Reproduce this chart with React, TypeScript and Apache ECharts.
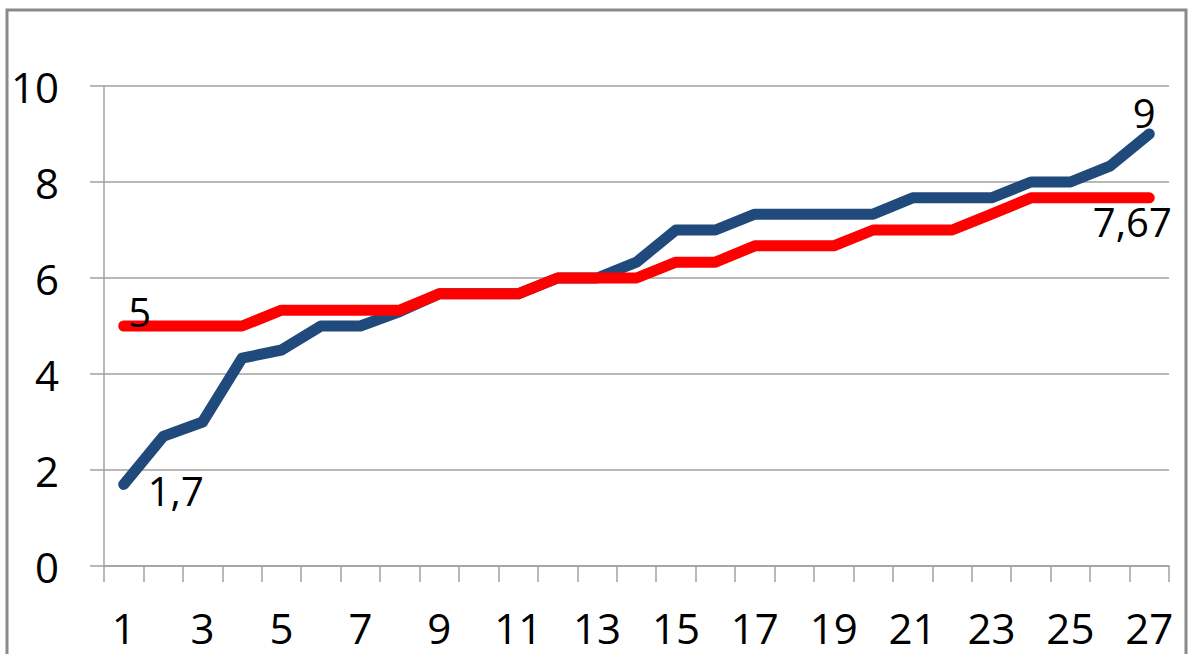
import React, { useEffect, useRef } from "react";
import * as echarts from "echarts";

const categories = Array.from({ length: 27 }, (_, i) => String(i + 1));
const blueValues = [1.7, 2.7, 3, 4.33, 4.5, 5, 5, 5.3, 5.67, 5.67, 5.67, 6, 6, 6.33, 7, 7, 7.33, 7.33, 7.33, 7.33, 7.67, 7.67, 7.67, 8, 8, 8.33, 9];
const redValues = [5, 5, 5, 5, 5.33, 5.33, 5.33, 5.33, 5.67, 5.67, 5.67, 6, 6, 6, 6.33, 6.33, 6.67, 6.67, 6.67, 7, 7, 7, 7.33, 7.67, 7.67, 7.67, 7.67];
const yTicks = [0, 2, 4, 6, 8, 10];

const FONT = '"Open Sans", "Noto Sans", sans-serif';
const fmt = (v: number) => String(v).replace(".", ",");

export default function App() {
  const ref = useRef<HTMLDivElement>(null);
  useEffect(() => {
    const chart = echarts.init(ref.current!, null, { renderer: "svg" });
    const lastIdx = categories.length - 1;
    const lab = (v: number, offset: number[]) => ({
      value: v,
      label: { show: true, position: "inside", offset, formatter: fmt(v) },
    });
    const blueData = blueValues.map((v, i) => {
      if (i === 0) return lab(v, [52, 6]);
      if (i === lastIdx) return lab(v, [-5, -22]);
      return v;
    });
    const redData = redValues.map((v, i) => {
      if (i === 0) return lab(v, [16, -15]);
      if (i === lastIdx) return lab(v, [-17, 24]);
      return v;
    });
    chart.setOption({
      animation: false,
      backgroundColor: "#ffffff",
      textStyle: { fontFamily: FONT },
      graphic: [
        {
          type: "rect",
          shape: { x: 7, y: 10, width: 1179, height: 700 },
          style: { fill: "none", stroke: "#8a8a8a", lineWidth: 3 },
          silent: true,
        },
      ],
      grid: { left: 104, right: 23, top: 86, bottom: 88 },
      xAxis: {
        type: "category",
        data: categories,
        boundaryGap: true,
        axisLine: { show: true, lineStyle: { color: "#a0a0a0", width: 1.5 } },
        axisTick: { show: true, interval: 0, length: 16, lineStyle: { color: "#a0a0a0", width: 1.5 } },
        axisLabel: { interval: 1, color: "#000", fontSize: 42, fontFamily: FONT, margin: 40 },
        splitLine: { show: false },
      },
      yAxis: {
        type: "value",
        min: yTicks[0],
        max: yTicks[yTicks.length - 1],
        interval: 2,
        axisLine: { show: true, lineStyle: { color: "#a0a0a0", width: 1.5 } },
        axisTick: { show: true, length: 14, lineStyle: { color: "#a0a0a0", width: 1.5 } },
        axisLabel: { color: "#000", fontSize: 42, fontFamily: FONT, margin: 45 },
        splitLine: { show: true, lineStyle: { color: "#a0a0a0", width: 1.5 } },
      },
      series: [
        {
          type: "line",
          data: blueData,
          showSymbol: true,
          symbol: "circle",
          symbolSize: 0.01,
          lineStyle: { color: "#214a7c", width: 11, cap: "round", join: "round" },
          itemStyle: { color: "#214a7c" },
          label: { show: false, color: "#000", fontSize: 40, fontFamily: FONT },
          z: 2,
        },
        {
          type: "line",
          data: redData,
          showSymbol: true,
          symbol: "circle",
          symbolSize: 0.01,
          lineStyle: { color: "#ff0000", width: 11, cap: "round", join: "round" },
          itemStyle: { color: "#ff0000" },
          label: { show: false, color: "#000", fontSize: 40, fontFamily: FONT },
          z: 3,
        },
      ],
    });
    return () => chart.dispose();
  }, []);
  return (
    <div
      ref={ref}
      style={{ position: "fixed", left: 0, top: 0, width: 1192, height: 654, background: "#fff" }}
    />
  );
}
